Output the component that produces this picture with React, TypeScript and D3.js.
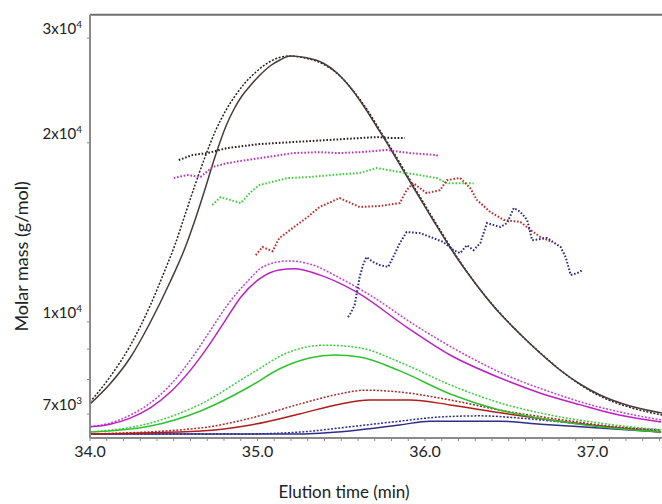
import React from "react";
import * as d3 from "d3";

// ---- tick definitions ----
const xMajorTicks = [34, 35, 36, 37];
const yTicks = [30000, 20000, 10000, 9000, 8000, 7000];
const yLabels = [
  { v: 30000, base: "3x10", exp: "4" },
  { v: 20000, base: "2x10", exp: "4" },
  { v: 10000, base: "1x10", exp: "4" },
  { v: 7000, base: "7x10", exp: "3" },
];

// ---- concentration signal traces (time, relative response) ----
const blackSolid: [number, number][] = [
  [34.0, 0.0794], [34.119, 0.1323], [34.239, 0.2011], [34.358, 0.2937], [34.478, 0.4021],
  [34.567, 0.4921], [34.627, 0.5661], [34.687, 0.6481], [34.746, 0.7328], [34.812, 0.8148],
  [34.86, 0.8598], [34.907, 0.8942], [34.955, 0.9206], [35.015, 0.9497], [35.075, 0.9735],
  [35.134, 0.9894], [35.194, 1.0], [35.284, 0.996], [35.391, 0.9815], [35.475, 0.955],
  [35.552, 0.918], [35.63, 0.8704], [35.713, 0.8122], [35.791, 0.7566], [35.869, 0.6984],
  [35.958, 0.6323], [36.048, 0.5661], [36.179, 0.4735], [36.299, 0.3995], [36.418, 0.3333],
  [36.549, 0.2725], [36.687, 0.2143], [36.806, 0.1693], [36.925, 0.1323], [37.045, 0.1032],
  [37.224, 0.0741], [37.415, 0.0556],
];
const blackDotted: [number, number][] = [
  [34.0, 0.0847], [34.119, 0.1508], [34.239, 0.2328], [34.358, 0.3386], [34.448, 0.4339],
  [34.507, 0.5], [34.567, 0.5794], [34.627, 0.6587], [34.687, 0.7328], [34.746, 0.7989],
  [34.806, 0.8519], [34.866, 0.8942], [34.925, 0.9286], [34.991, 0.9577], [35.051, 0.9788],
  [35.122, 0.9947], [35.194, 1.0], [35.284, 0.9947], [35.391, 0.9788], [35.493, 0.9471],
  [35.582, 0.9021], [35.66, 0.8545], [35.737, 0.7989], [35.815, 0.7434], [35.893, 0.6852],
  [35.982, 0.619], [36.072, 0.5529], [36.203, 0.4603], [36.322, 0.3862], [36.442, 0.3228],
  [36.573, 0.2619], [36.71, 0.2063], [36.83, 0.1614], [36.949, 0.1243], [37.069, 0.0952],
  [37.236, 0.0688], [37.415, 0.0503],
];
const magentaSolid: [number, number][] = [
  [34.0, 0.019], [34.12, 0.026], [34.24, 0.042], [34.36, 0.069], [34.48, 0.111], [34.6, 0.169],
  [34.72, 0.241], [34.81, 0.302], [34.9, 0.362], [35.01, 0.41], [35.13, 0.434], [35.22, 0.437],
  [35.37, 0.421], [35.59, 0.376], [35.89, 0.283], [36.15, 0.209], [36.45, 0.148], [36.69, 0.108],
  [36.93, 0.077], [37.16, 0.05], [37.41, 0.032],
];
const magentaDotted: [number, number][] = [
  [34.0, 0.019], [34.12, 0.029], [34.24, 0.05], [34.36, 0.082], [34.48, 0.13], [34.6, 0.196],
  [34.72, 0.275], [34.82, 0.341], [34.93, 0.399], [35.04, 0.444], [35.18, 0.458], [35.31, 0.45],
  [35.49, 0.413], [35.67, 0.368], [35.94, 0.288], [36.21, 0.217], [36.51, 0.151], [36.75, 0.111],
  [36.99, 0.077], [37.22, 0.053], [37.41, 0.037],
];
const greenSolid: [number, number][] = [
  [34.0, 0.005], [34.36, 0.021], [34.66, 0.061], [34.96, 0.127], [35.13, 0.172], [35.31, 0.201],
  [35.46, 0.209], [35.61, 0.204], [35.85, 0.167], [36.15, 0.106], [36.45, 0.063], [36.75, 0.037],
  [37.04, 0.019], [37.41, 0.005],
];
const greenDotted: [number, number][] = [
  [34.0, 0.005], [34.36, 0.029], [34.66, 0.079], [34.96, 0.159], [35.19, 0.217], [35.4, 0.235],
  [35.61, 0.228], [35.85, 0.19], [36.15, 0.13], [36.45, 0.082], [36.75, 0.05], [37.04, 0.029],
  [37.41, 0.011],
];
const redSolid: [number, number][] = [
  [34.0, 0.0], [34.66, 0.008], [34.96, 0.024], [35.25, 0.053], [35.49, 0.079], [35.67, 0.09],
  [35.91, 0.09], [36.15, 0.077], [36.45, 0.056], [36.75, 0.037], [37.04, 0.021], [37.41, 0.005],
];
const redDotted: [number, number][] = [
  [34.0, 0.0], [34.66, 0.016], [34.96, 0.042], [35.25, 0.079], [35.49, 0.106], [35.64, 0.116],
  [35.85, 0.111], [36.15, 0.09], [36.45, 0.063], [36.75, 0.042], [37.04, 0.024], [37.41, 0.008],
];
const blueSolid: [number, number][] = [
  [34.0, 0.0], [35.25, 0.0], [35.55, 0.008], [35.85, 0.024], [36.03, 0.034], [36.45, 0.034],
  [36.69, 0.026], [37.04, 0.016], [37.41, 0.005],
];
const blueDotted: [number, number][] = [
  [34.0, 0.0], [34.9, 0.0], [35.25, 0.005], [35.55, 0.019], [35.85, 0.034], [36.09, 0.045],
  [36.33, 0.048], [36.57, 0.042], [36.81, 0.032], [37.04, 0.021], [37.41, 0.011],
];

// ---- molar mass points (time, g/mol) ----
const blackMass: [number, number][] = [
  [34.53, 18710], [34.61, 19070], [34.7, 19220], [34.82, 19600], [35.01, 19900], [35.21, 20060],
  [35.41, 20210], [35.61, 20370], [35.71, 20450], [35.81, 20370], [35.88, 20370],
];
const magentaMass: [number, number][] = [
  [34.5, 17450], [34.58, 17650], [34.66, 17520], [34.73, 18210], [34.82, 18490], [35.01, 18850],
  [35.21, 19220], [35.37, 19290], [35.49, 19220], [35.61, 19290], [35.77, 19450], [35.91, 19220],
  [36.07, 19070], [36.08, 18850],
];
const greenMass: [number, number][] = [
  [34.73, 15720], [34.78, 16210], [34.9, 15840], [34.96, 16530], [35.01, 16980], [35.18, 17450],
  [35.31, 17520], [35.51, 17720], [35.61, 17790], [35.71, 18140], [35.85, 17860], [35.97, 17650],
  [36.07, 17450], [36.13, 17110], [36.21, 17110], [36.29, 17110],
];
const redMass: [number, number][] = [
  [34.99, 12950], [35.03, 13360], [35.09, 13150], [35.13, 13830], [35.21, 14380], [35.3, 15010],
  [35.37, 15600], [35.49, 16150], [35.61, 15600], [35.73, 15660], [35.85, 15840], [35.89, 16650],
  [35.93, 17110], [36.01, 16460], [36.09, 16650], [36.13, 17310], [36.21, 17450], [36.27, 16790],
  [36.31, 16030], [36.39, 15300], [36.47, 14840], [36.57, 14720], [36.63, 14270], [36.69, 13890],
  [36.76, 13620],
];
const blueMass: [number, number][] = [
  [35.54, 10190], [35.55, 10270], [35.58, 10670], [35.61, 11900], [35.63, 12460], [35.65, 12850],
  [35.69, 12610], [35.73, 12460], [35.78, 12370], [35.81, 12850], [35.85, 13570], [35.89, 14160],
  [35.97, 14100], [36.05, 13830], [36.11, 13620], [36.17, 13200], [36.21, 13050], [36.25, 13460],
  [36.29, 13200], [36.33, 13570], [36.37, 14660], [36.45, 14440], [36.49, 14660], [36.53, 15540],
  [36.57, 15300], [36.61, 14840], [36.64, 13720], [36.73, 13830], [36.81, 13360], [36.84, 12850],
  [36.87, 11990], [36.91, 12080], [36.94, 12220],
];

const W = 662;
const H = 504;
const left = 90;
const right = 662;
const top = 14.7;
const bottom = 438;

const FONT = "Lato, 'Open Sans', sans-serif";

export default function App() {
  const x = d3.scaleLinear().domain([34, 37.415]).range([left, right]);
  const y = d3.scaleLog().domain([6380, 32840]).range([bottom, top]);
  const sig = d3.scaleLinear().domain([0, 1]).range([434, 56]);

  const sigLine = d3
    .line<[number, number]>()
    .x((d) => x(d[0]))
    .y((d) => sig(d[1]))
    .curve(d3.curveMonotoneX);
  const massLine = d3
    .line<[number, number]>()
    .x((d) => x(d[0]))
    .y((d) => y(d[1]))
    .curve(d3.curveLinear);

  const curves = [
    { d: blueDotted, c: "#2e2e8a", dash: "2 1.6" },
    { d: blueSolid, c: "#2e2e8a", dash: null },
    { d: redDotted, c: "#a52a2a", dash: "2 1.6" },
    { d: redSolid, c: "#b01c1c", dash: null },
    { d: greenDotted, c: "#3ccc3c", dash: "2 1.6" },
    { d: greenSolid, c: "#2fc22f", dash: null },
    { d: magentaDotted, c: "#c040c8", dash: "2 1.6" },
    { d: magentaSolid, c: "#bb22c0", dash: null },
    { d: blackDotted, c: "#2a2020", dash: "2 1.6" },
    { d: blackSolid, c: "#4a3a3a", dash: null },
  ];
  const masses = [
    { d: blackMass, c: "#2a1a1a" },
    { d: magentaMass, c: "#c030c0" },
    { d: greenMass, c: "#3cd03c" },
    { d: redMass, c: "#c02a2a" },
    { d: blueMass, c: "#2c2c80" },
  ];

  const minorX = d3.range(340, 375).map((v) => v / 10);

  return (
    <svg width={W} height={H} style={{ position: "absolute", left: 0, top: 0, background: "#fff" }}>
      <defs>
        <clipPath id="plot">
          <rect x={left} y={top} width={right - left} height={bottom - top} />
        </clipPath>
      </defs>
      <g clipPath="url(#plot)">
        {curves.map((s, i) => (
          <path
            key={i}
            d={sigLine(s.d) || ""}
            fill="none"
            stroke={s.c}
            strokeWidth={1.5}
            strokeDasharray={s.dash || undefined}
          />
        ))}
        {masses.map((s, i) => (
          <path
            key={i}
            d={massLine(s.d) || ""}
            fill="none"
            stroke={s.c}
            strokeWidth={2}
            strokeDasharray="1.6 1.8"
          />
        ))}
      </g>
      {/* frame */}
      <line x1={left} x2={right} y1={top} y2={top} stroke="#6e6e6e" strokeWidth={2} />
      <line x1={left} x2={left} y1={top} y2={bottom} stroke="#8a8a8a" strokeWidth={2} />
      <line x1={left} x2={right} y1={bottom} y2={bottom} stroke="#8a8a8a" strokeWidth={2} />
      {/* x ticks */}
      {minorX.map((t, i) => (
        <line key={i} x1={x(t)} x2={x(t)} y1={bottom} y2={bottom + 3} stroke="#8a8a8a" strokeWidth={1} />
      ))}
      {xMajorTicks.map((t) => (
        <text key={t} x={x(t)} y={457} textAnchor="middle" fontFamily={FONT} fontSize={16} fill="#222">
          {t.toFixed(1)}
        </text>
      ))}
      {/* y ticks */}
      {yTicks.map((v) => (
        <line key={v} x1={left - 3} x2={left} y1={y(v)} y2={y(v)} stroke="#8a8a8a" strokeWidth={1} />
      ))}
      {yLabels.map((l) => (
        <text key={l.v} x={82} y={y(l.v) - 4} textAnchor="end" fontFamily={FONT} fontSize={15} fill="#222">
          {l.base}
          <tspan fontSize={10} dy={-6}>
            {l.exp}
          </tspan>
        </text>
      ))}
      {/* axis titles */}
      <text
        transform={`translate(28,${(top + bottom) / 2 + 30}) rotate(-90)`}
        textAnchor="middle"
        fontFamily={FONT}
        fontSize={18}
        fill="#222"
      >
        Molar mass (g/mol)
      </text>
      <text x={344} y={498} textAnchor="middle" fontFamily={FONT} fontSize={17} fill="#222">
        Elution time (min)
      </text>
    </svg>
  );
}
